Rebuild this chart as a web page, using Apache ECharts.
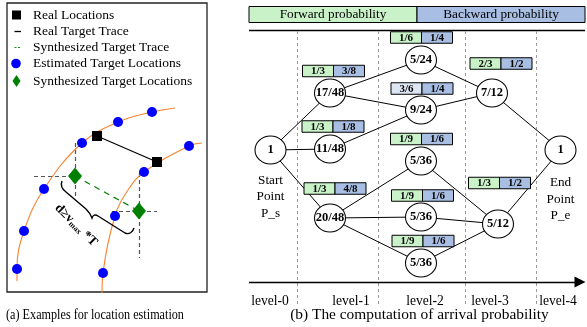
<!DOCTYPE html>
<html>
<head>
<meta charset="utf-8">
<script src="https://cdn.jsdelivr.net/npm/echarts@6/dist/echarts.min.js"></script>
<style>
  html, body { margin: 0; padding: 0; background: #fff; }
  #main { width: 587px; height: 327px; }
</style>
</head>
<body>
<div id="main"></div>
<script>
// ---------- panel (a): location estimation ----------
const legendNames = ['Real Locations', 'Real Target Trace', 'Synthesized Target Trace',
  'Estimated Target Locations', 'Synthesized Target Locations'];
// two reachable-range rings (orange) traced through their sample points
const ringA = [[17, 281], [17, 269], [24, 231], [44, 189], [82, 143], [118, 122], [152, 112], [175, 108]];
const ringB = [[102, 293], [103, 273], [115, 216], [128, 190], [144, 172], [189, 146], [202, 143]];
const estimatedPts = [[152, 112], [118, 122], [82, 143], [44, 189], [24, 231], [17, 269],
  [189, 146], [144, 172], [115, 216], [103, 273]];
const realPts = [[97, 136], [157, 162]];
const synthPts = [[75, 176], [139, 211]];

// ---------- panel (b): arrival probability lattice ----------
const levels = ['level-0', 'level-1', 'level-2', 'level-3', 'level-4'];
const nodeLabels = ['1', '17/48', '11/48', '20/48', '5/24', '9/24', '5/36', '5/36', '5/36', '7/12', '5/12', '1'];
const nodeX = [270.5, 330, 330, 330, 421, 421, 421, 421, 421, 492, 498, 560.5];
const nodeY = [150, 93, 149, 218, 60, 110, 161, 217, 263, 93, 224, 150];
const edges = [[0, 1], [0, 2], [0, 3], [1, 4], [1, 5], [2, 5], [3, 6], [3, 7], [3, 8],
  [4, 9], [5, 9], [6, 10], [7, 10], [8, 10], [9, 11], [10, 11]];
const forwardProb = ['1/3', '1/3', '1/3', '1/6', '3/6', '1/9', '1/9', '1/9', '2/3', '1/3'];
const backwardProb = ['3/8', '1/8', '4/8', '1/4', '1/4', '1/6', '1/6', '1/6', '1/2', '1/2'];
const probBoxX = [333.5, 333, 335, 421.5, 422, 421.5, 422.5, 423, 501, 499.5];
const probBoxY = [71, 126.5, 188.5, 37.5, 88.5, 139, 195.5, 241, 63.5, 183];

// layout helpers
const SERIF = '"Liberation Serif", "Times New Roman", serif';
const levelLabelX = [270, 351, 425, 490, 558];
const levelBoundX = [297, 378, 465, 536];
const GREEN_CELL = '#c9f2c9';
const BLUE_CELL = '#a8bee3';
const MUTED_CELL = '#dde6f3';
const mutedForward = new Set([4]);

const chart = echarts.init(document.getElementById('main'), null, { renderer: 'canvas' });

const legendY = [15, 31.5, 47.5, 63.5, 81];

const graphics = [
  // panel (a) frame
  { type: 'rect', shape: { x: 7, y: 3, width: 200, height: 289 },
    style: { fill: 'none', stroke: '#222', lineWidth: 1.3 }, z: 1 },
  // legend symbols
  { type: 'rect', shape: { x: 12, y: legendY[0] - 4.5, width: 9, height: 9 }, style: { fill: '#000' } },
  { type: 'line', shape: { x1: 14.5, y1: legendY[1], x2: 21, y2: legendY[1] }, style: { stroke: '#000', lineWidth: 1.3 } },
  { type: 'line', shape: { x1: 14.5, y1: legendY[2], x2: 21.5, y2: legendY[2] },
    style: { stroke: '#139013', lineWidth: 1.2, lineDash: [2, 1.5] } },
  { type: 'circle', shape: { cx: 16, cy: legendY[3], r: 4.8 }, style: { fill: '#0000ff' } },
  { type: 'polygon', shape: { points: [[16.5, legendY[4] - 6], [20.5, legendY[4]], [16.5, legendY[4] + 6], [12.5, legendY[4]]] },
    style: { fill: '#008000' } },
  // distance annotation
  { type: 'text', x: 57, y: 206, rotation: -Math.PI / 4, z: 5,
    style: { text: '{a|d≥v}{b|max}{a| *T}', fill: '#000', align: 'left', verticalAlign: 'middle',
      rich: { a: { fontFamily: SERIF, fontWeight: 'bold', fontSize: 13, fill: '#000' },
              b: { fontFamily: SERIF, fontWeight: 'bold', fontSize: 8, fill: '#000', verticalAlign: 'bottom', padding: [6, 0, 0, 0] } } } },
  // captions
  { type: 'text', x: 95, y: 315, scaleX: 0.87, originX: 0, originY: 0,
    style: { text: '(a) Examples for location estimation', font: '14px ' + SERIF, fill: '#000', align: 'center', verticalAlign: 'middle' } },
  { type: 'text', x: 419.5, y: 315, style: { text: '(b) The computation of arrival probability', font: '15.4px ' + SERIF, fill: '#000', align: 'center', verticalAlign: 'middle' } },
  // panel (b) header
  { type: 'rect', shape: { x: 249, y: 6.5, width: 168, height: 16 }, style: { fill: GREEN_CELL, stroke: '#000', lineWidth: 1 } },
  { type: 'rect', shape: { x: 417, y: 6.5, width: 168, height: 16 }, style: { fill: BLUE_CELL, stroke: '#000', lineWidth: 1 } },
  { type: 'text', x: 333, y: 15, style: { text: 'Forward probability', font: '13.3px ' + SERIF, fill: '#000', align: 'center', verticalAlign: 'middle' } },
  { type: 'text', x: 501, y: 15, style: { text: 'Backward probability', font: '13.3px ' + SERIF, fill: '#000', align: 'center', verticalAlign: 'middle' } },
  { type: 'line', shape: { x1: 249, y1: 30.5, x2: 585, y2: 30.5 }, style: { stroke: '#000', lineWidth: 1.5 } },
  // start / end annotations
  { type: 'text', x: 270.5, y: 197, style: { text: 'Start\nPoint\nP_s', font: '13.2px ' + SERIF, lineHeight: 16.5, fill: '#000', align: 'center', verticalAlign: 'middle' } },
  { type: 'text', x: 560.5, y: 199.5, style: { text: 'End\nPoint\nP_e', font: '13.2px ' + SERIF, lineHeight: 16.5, fill: '#000', align: 'center', verticalAlign: 'middle' } }
];

legendNames.forEach((name, i) => {
  graphics.push({ type: 'text', x: 33, y: legendY[i],
    style: { text: name, font: '13.5px ' + SERIF, fill: '#000', align: 'left', verticalAlign: 'middle' } });
});
levels.forEach((name, i) => {
  graphics.push({ type: 'text', x: levelLabelX[i], y: 301,
    style: { text: name, font: '13.6px ' + SERIF, fill: '#000', align: 'center', verticalAlign: 'middle' } });
});

const option = {
  animation: false,
  backgroundColor: '#fff',
  grid: { left: 0, right: 0, top: 0, bottom: 0 },
  xAxis: { type: 'value', min: 0, max: 587, show: false },
  yAxis: { type: 'value', min: 0, max: 327, inverse: true, show: false },
  graphic: graphics,
  series: [
    // ----- panel (a) -----
    { type: 'line', data: ringA, smooth: 0.4, showSymbol: false, silent: true, z: 2,
      lineStyle: { color: '#f7832e', width: 1.1 } },
    { type: 'line', data: ringB, smooth: 0.4, showSymbol: false, silent: true, z: 2,
      lineStyle: { color: '#f7832e', width: 1.1 } },
    { type: 'lines', coordinateSystem: 'cartesian2d', silent: true, z: 2,
      lineStyle: { color: '#555', width: 1.2, type: [4, 3], opacity: 1 },
      data: [
        { coords: [[synthPts[0][0], 143], [synthPts[0][0], 197]] },
        { coords: [[34, synthPts[0][1]], [synthPts[0][0], synthPts[0][1]]] },
        { coords: [[synthPts[1][0], 173], [synthPts[1][0], 258]] },
        { coords: [[112, synthPts[1][1]], [157, synthPts[1][1]]] }
      ] },
    { type: 'line', data: realPts, showSymbol: false, silent: true, z: 3,
      lineStyle: { color: '#000', width: 1.2 } },
    { type: 'line', data: synthPts, showSymbol: false, silent: true, z: 3,
      lineStyle: { color: '#008000', width: 1.2, type: [6, 5] } },
    // curly brace spanning the synthesized-trace distance
    { type: 'custom', silent: true, z: 5, data: [[0, 0]],
      renderItem: (params, api) => {
        const o = api.coord([0, 0]);
        return { type: 'path', x: o[0], y: o[1],
          shape: { pathData: 'M62,181 C60,186 62,189 66,192 L86,209 C89,212 91,215 92,218 C93,215 95,214 98,216 L125,233 C129,235 133,232 134,228' },
          style: { fill: 'none', stroke: '#000', lineWidth: 1.4 } };
      } },
    { type: 'scatter', data: estimatedPts, symbol: 'circle', symbolSize: 10, silent: true, z: 4,
      itemStyle: { color: '#0000ff', opacity: 1 } },
    { type: 'scatter', data: realPts, symbol: 'rect', symbolSize: 10, silent: true, z: 4,
      itemStyle: { color: '#000', opacity: 1 } },
    { type: 'scatter', data: synthPts, symbol: 'diamond', symbolSize: [14, 17], silent: true, z: 4,
      itemStyle: { color: '#008000', opacity: 1 } },

    // ----- panel (b) -----
    { type: 'lines', coordinateSystem: 'cartesian2d', silent: true, z: 1,
      lineStyle: { color: '#9a9a9a', width: 1, type: [3, 3], opacity: 1 },
      data: levelBoundX.map(x => ({ coords: [[x, 31], [x, 305]] })) },
    { type: 'lines', coordinateSystem: 'cartesian2d', silent: true, z: 2,
      symbol: ['none', 'triangle'], symbolSize: 11,
      lineStyle: { color: '#000', width: 1.3, opacity: 1 },
      data: [{ coords: [[249, 282], [580, 282]] }] },
    { type: 'lines', coordinateSystem: 'cartesian2d', silent: true, z: 2,
      lineStyle: { color: '#000', width: 1, opacity: 1 },
      data: edges.map(([a, b]) => ({ coords: [[nodeX[a], nodeY[a]], [nodeX[b], nodeY[b]]] })) },
    { type: 'scatter', silent: true, z: 3,
      data: nodeX.map((x, i) => [x, nodeY[i]]),
      symbol: 'circle', symbolSize: [31, 28],
      itemStyle: { color: '#fff', borderColor: '#000', borderWidth: 1, opacity: 1 },
      label: { show: true, position: 'inside', formatter: p => nodeLabels[p.dataIndex],
        fontFamily: SERIF, fontWeight: 'bold', fontSize: 12.5, color: '#000' } },
    { type: 'custom', silent: true, z: 4,
      data: probBoxX.map((x, i) => [x, probBoxY[i]]),
      renderItem: (params, api) => {
        const i = params.dataIndex;
        const c = api.coord([api.value(0), api.value(1)]);
        const w = 31, h = 11.5;
        const y0 = c[1] - h / 2;
        return { type: 'group', children: [
          { type: 'rect', shape: { x: c[0] - w, y: y0, width: w, height: h },
            style: { fill: mutedForward.has(i) ? MUTED_CELL : GREEN_CELL, stroke: '#000', lineWidth: 1 } },
          { type: 'rect', shape: { x: c[0], y: y0, width: w, height: h },
            style: { fill: BLUE_CELL, stroke: '#000', lineWidth: 1 } },
          { type: 'text', x: c[0] - w / 2, y: c[1] + 0.5,
            style: { text: forwardProb[i], font: 'bold 11px ' + SERIF, fill: '#000', align: 'center', verticalAlign: 'middle' } },
          { type: 'text', x: c[0] + w / 2, y: c[1] + 0.5,
            style: { text: backwardProb[i], font: 'bold 11px ' + SERIF, fill: '#000', align: 'center', verticalAlign: 'middle' } }
        ] };
      } }
  ]
};

chart.setOption(option);
</script>
</body>
</html>
